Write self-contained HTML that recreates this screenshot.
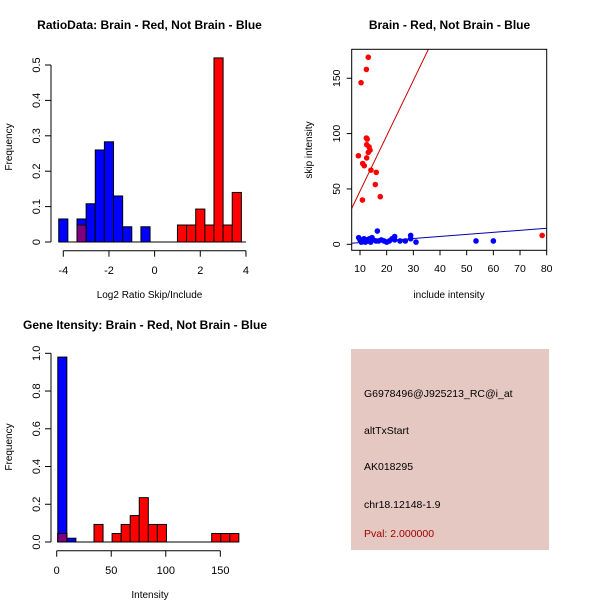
<!DOCTYPE html>
<html><head><meta charset="utf-8"><style>
body{margin:0;background:#fff}
svg{display:block;font-family:"Liberation Sans",sans-serif}
</style></head><body>
<svg id="c" width="600" height="600" xmlns="http://www.w3.org/2000/svg">
<rect width="600" height="600" fill="#fff"/>
</svg>
<script>
// Panel 1: ratio histogram
const ratioBinWidth = 0.4;
const ratioBlueStart = -4.2;
const ratioBlue = [0.065,0,0.065,0.108,0.26,0.283,0.13,0.043,0,0.043];
const ratioRedStart = 1.0;
const ratioRed = [0.048,0.048,0.093,0.048,0.52,0.048,0.14];
const ratioRedLowStart = -3.4;
const ratioRedLow = [0.048];
const ratioYTicks = [0,0.1,0.2,0.3,0.4,0.5];
const ratioXTicks = [-4,-2,0,2,4];
// Panel 2: scatter
const redX = [9.4,10.4,12.4,13.1,12.4,12.7,12.5,13.4,13.75,13.1,12.5,11,11.6,14.1,16.1,15.75,17.6,10.9,78.3];
const redY = [80,146,158,169,96,95,90,88,85,83,78,73,71,67,65,54,43,40,8];
const blueX = [9.5,10,10.5,11,11.5,12,12.5,13,13.5,14,14.5,15,16,16.5,17,18,19,20,21,22,23,23,25,27,29,29,31,53.5,60];
const blueY = [6,4,2,3,5,2,4,3,5,2,6,4,3,12,3,4,3,2,3,5,7,4,3,3,8,5,2,3,3];
const redFit = [-2,5.0];   // intercept, slope
const blueFit = [-0.3,0.185];
const scatXTicks = [10,20,30,40,50,60,70,80];
const scatYTicks = [0,50,100,150];
// Panel 3: intensity histogram
const intBinWidth = 8.3;
const intStart = 1;
const intBlue = [0.98,0.02];
const intRed = [0.045,0,0,0,0.093,0,0.045,0.093,0.14,0.235,0.093,0.093,0,0,0,0,0,0.045,0.045,0.045];
const intYTicks = [0,0.2,0.4,0.6,0.8,1.0];
const intXTicks = [0,50,100,150];
// Panel 4 text
const infoLines = ["G6978496@J925213_RC@i_at","altTxStart","AK018295","chr18.12148-1.9"];
const pvalText = "Pval: 2.000000";

const svg = document.getElementById('c');
const NS = 'http://www.w3.org/2000/svg';
function mk(tag, attrs, parent){
  const e = document.createElementNS(NS, tag);
  for (const k in attrs) e.setAttribute(k, attrs[k]);
  (parent||svg).appendChild(e);
  return e;
}
function txt(x,y,s,opts,parent){
  const t = mk('text', Object.assign({x:x,y:y,'font-size':11,'text-anchor':'middle',fill:'#000'},opts||{}), parent);
  t.textContent = s;
  return t;
}
function grp(){ return mk('g',{}); }

// ---------- Panel 1 ----------
{
  const g = grp();
  
  
  const xs = v => 63.3 + (v + 4) * 22.83;
  const ys = v => 242 - v * 354;
  const t = txt(149.5, 29, 'RatioData: Brain - Red, Not Brain - Blue', {'font-weight':'bold','font-size':12}, g);
  
  
  function bars(arr, start, fill, name){
    arr.forEach((v,i)=>{
      if (v<=0) return;
      const x0 = xs(start + i*ratioBinWidth), x1 = xs(start + (i+1)*ratioBinWidth);
      const r = mk('rect',{x:x0,y:ys(v),width:x1-x0,height:ys(0)-ys(v),fill:fill,stroke:'#000','stroke-width':1},g);
      
      
    });
  }
  bars(ratioBlue, ratioBlueStart, '#0000ff', 'ratio-blue-bar');
  bars(ratioRed, ratioRedStart, '#ff0000', 'ratio-red-bar');
  bars(ratioRedLow, ratioRedLowStart, '#80007f', 'ratio-overlap-bar');
  mk('line',{x1:xs(-4.2),x2:xs(4),y1:242,y2:242,stroke:'#000'},g);
  // y axis
  mk('line',{x1:51,x2:51,y1:ys(0),y2:ys(0.5),stroke:'#000'},g);
  ratioYTicks.forEach(v=>{
    mk('line',{x1:45,x2:51,y1:ys(v),y2:ys(v),stroke:'#000'},g);
    txt(0,0,String(v),{transform:`translate(40,${ys(v)}) rotate(-90)`},g);
  });
  mk('line',{x1:xs(-4),x2:xs(4),y1:250.7,y2:250.7,stroke:'#000'},g);
  ratioXTicks.forEach(v=>{
    mk('line',{x1:xs(v),x2:xs(v),y1:250.7,y2:256.7,stroke:'#000'},g);
    txt(xs(v),274,String(v),{},g);
  });
  txt(149.5,298,'Log2 Ratio Skip/Include',{'font-size':10},g);
  txt(0,0,'Frequency',{'font-size':10,transform:'translate(12,147) rotate(-90)'},g);
}

// ---------- Panel 2 ----------
{
  const g = grp();
  
  
  const xs = v => 360 + (v - 10) * 2.667;
  const ys = v => 244.3 - v * 1.107;
  txt(449.5, 29, 'Brain - Red, Not Brain - Blue', {'font-weight':'bold','font-size':12}, g);
  const L=351.7,R=546.7,T=49.3,B=250.3;
  const cp = mk('clipPath',{id:'cp2'},g);
  mk('rect',{x:L,y:T,width:R-L,height:B-T},cp);
  const cg = mk('g',{'clip-path':'url(#cp2)'},g);
  function fit(f,col,name){
    const xa = 0, xb = 90;
    const l = mk('line',{x1:xs(xa),y1:ys(f[0]+f[1]*xa),x2:xs(xb),y2:ys(f[0]+f[1]*xb),stroke:col,'stroke-width':1},cg);
    
    
  }
  fit(redFit,'#cc0000','red-fit-line');
  fit(blueFit,'#0000aa','blue-fit-line');
  blueX.forEach((x,i)=>{
    const c = mk('circle',{cx:xs(x),cy:ys(blueY[i]),r:2.8,fill:'#0000ff'},cg);
    
    
  });
  redX.forEach((x,i)=>{
    const c = mk('circle',{cx:xs(x),cy:ys(redY[i]),r:2.8,fill:'#ff0000'},cg);
    
    
  });
  mk('rect',{x:L,y:T,width:R-L,height:B-T,fill:'none',stroke:'#000'},g);
  scatXTicks.forEach(v=>{
    mk('line',{x1:xs(v),x2:xs(v),y1:B,y2:B+5,stroke:'#000'},g);
    txt(xs(v),272,String(v),{'font-size':10.5},g);
  });
  scatYTicks.forEach(v=>{
    mk('line',{x1:L-5,x2:L,y1:ys(v),y2:ys(v),stroke:'#000'},g);
    txt(0,0,String(v),{'font-size':10.5,transform:`translate(340,${ys(v)}) rotate(-90)`},g);
  });
  txt(449,298,'include intensity',{'font-size':10},g);
  txt(0,0,'skip intensity',{'font-size':10,transform:'translate(312,150) rotate(-90)'},g);
}

// ---------- Panel 3 ----------
{
  const g = grp();
  
  
  const xs = v => 56.7 + v * 1.0907;
  const ys = v => 542 - v * 188.7;
  txt(145, 329, 'Gene Itensity: Brain - Red, Not Brain - Blue', {'font-weight':'bold','font-size':12}, g);
  function bars(arr, fill, name){
    arr.forEach((v,i)=>{
      if (v<=0) return;
      const x0 = xs(intStart + i*intBinWidth), x1 = xs(intStart + (i+1)*intBinWidth);
      const r = mk('rect',{x:x0,y:ys(v),width:x1-x0,height:ys(0)-ys(v),fill:fill,stroke:'#000'},g);
      
      
    });
  }
  bars(intBlue,'#0000ff','intensity-blue-bar');
  bars(intRed,'#ff0000','intensity-red-bar');
  // overlap of first bins
  const ov = Math.min(intBlue[0], intRed[0]);
  const o = mk('rect',{x:xs(intStart),y:ys(ov),width:xs(intStart+intBinWidth)-xs(intStart),height:ys(0)-ys(ov),fill:'#80007f',stroke:'#000'},g);
  
  
  mk('line',{x1:xs(intStart),x2:xs(intStart+intRed.length*intBinWidth),y1:542,y2:542,stroke:'#000'},g);
  mk('line',{x1:51,x2:51,y1:ys(0),y2:ys(1),stroke:'#000'},g);
  intYTicks.forEach(v=>{
    mk('line',{x1:45,x2:51,y1:ys(v),y2:ys(v),stroke:'#000'},g);
    txt(0,0,v.toFixed(1),{transform:`translate(40,${ys(v)}) rotate(-90)`},g);
  });
  mk('line',{x1:xs(0),x2:xs(150),y1:550.7,y2:550.7,stroke:'#000'},g);
  intXTicks.forEach(v=>{
    mk('line',{x1:xs(v),x2:xs(v),y1:550.7,y2:556.7,stroke:'#000'},g);
    txt(xs(v),574,String(v),{},g);
  });
  txt(150,598,'Intensity',{'font-size':10},g);
  txt(0,0,'Frequency',{'font-size':10,transform:'translate(12,447) rotate(-90)'},g);
}

// ---------- Panel 4 ----------
{
  const g = grp();
  
  
  mk('rect',{x:351,y:349,width:198,height:201,fill:'#e5c8c2'},g);
  const ys = [397,434,470,508];
  infoLines.forEach((s,i)=>{
    const t = txt(364, ys[i], s, {'text-anchor':'start','font-size':10.5}, g);
    
    
  });
  const p = txt(364, 537, pvalText, {'text-anchor':'start','font-size':10.5,fill:'#a00000'}, g);
  
  
}
</script>
</body></html>
